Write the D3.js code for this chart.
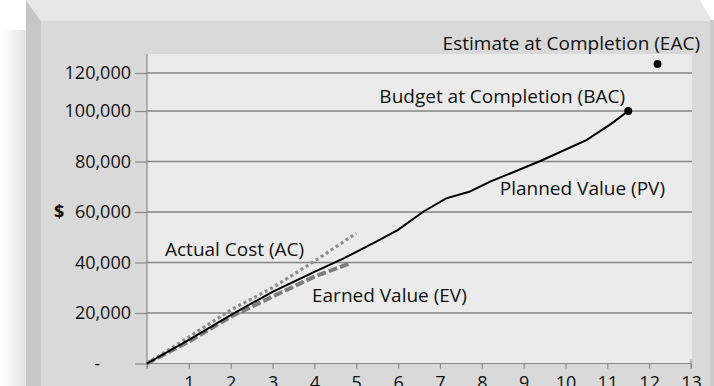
<!DOCTYPE html>
<html>
<head>
<meta charset="utf-8">
<script src="https://cdn.jsdelivr.net/npm/d3@7"></script>
<style>
  body { margin: 0; background: #fff; }
  svg { display: block; font-family: "Open Sans", sans-serif; }
</style>
</head>
<body>
<svg width="714" height="386"></svg>
<script>
// data (months, dollars)
var pvMonths = [0, 1, 2, 3, 4, 4.7, 5.5, 6, 6.6, 7.15, 7.7, 8.2, 9.4, 10.5, 11.1, 11.5];
var pvValues = [0, 9400, 19200, 28400, 36300, 41600, 48500, 52900, 60100, 65400, 68000, 72000, 80200, 88500, 95000, 100000];

var acMonths = [0, 1, 2, 3, 4, 5];
var acValues = [0, 10500, 21200, 30000, 40500, 51600];

var evMonths = [0, 1, 2, 3, 4, 4.85];
var evValues = [0, 8700, 18500, 26500, 34400, 39700];

var bac = { month: 11.5, value: 100000 };
var eac = { month: 12.2, value: 124700 };

var xTicks = [0, 1, 2, 3, 4, 5, 6, 7, 8, 9, 10, 11, 12, 13];
var yTicks = [0, 20000, 40000, 60000, 80000, 100000, 120000];

var svg = d3.select("svg"),
    width = +svg.attr("width"),
    height = +svg.attr("height");

// frame: shadow, left face, top face, front panel
var defs = svg.append("defs");
var grad = defs.append("linearGradient").attr("id", "shadow");
grad.append("stop").attr("offset", "0%").attr("stop-color", "#ffffff");
grad.append("stop").attr("offset", "100%").attr("stop-color", "#e2e2e2");

svg.append("rect").attr("x", 0).attr("y", 30).attr("width", 27).attr("height", height)
    .attr("fill", "url(#shadow)");
svg.append("rect").attr("x", 41).attr("y", 21).attr("width", width - 41).attr("height", height)
    .attr("fill", "#d9d9d9");
svg.append("polygon").attr("points", "26,0 41,21 41,386 26,386").attr("fill", "#c6c6c6");
svg.append("polygon").attr("points", "26,0 700,0 712,21 41,21").attr("fill", "#e7e7e7");
svg.append("polygon").attr("points", "710,20 714,20 714,386 710,386").attr("fill", "#cbcbcb");

var x = d3.scaleLinear()
    .domain([0, 13])
    .range([147, 691]);

// the original squeezes the top band, so use a piecewise scale
var y = d3.scaleLinear()
    .domain([0, 100000, 120000])
    .range([363.5, 111, 73]);

var plotTop = y(130000);

svg.append("rect")
    .attr("x", x(0)).attr("y", plotTop)
    .attr("width", 692 - x(0)).attr("height", y(0) - plotTop)
    .attr("fill", "#ebebeb");

// grid lines
svg.append("g").selectAll("line")
    .data(yTicks.slice(1))
    .join("line")
    .attr("x1", x(0)).attr("x2", 692)
    .attr("y1", d => y(d)).attr("y2", d => y(d))
    .attr("stroke", "#858585").attr("stroke-width", 1.5);

var yAxis = d3.axisLeft(y)
    .tickValues(yTicks)
    .tickSize(12)
    .tickPadding(4)
    .tickFormat(d => d === 0 ? "-" : d3.format(",")(d));

var gY = svg.append("g")
    .attr("transform", "translate(" + x(0) + ",0)")
    .call(yAxis);
gY.select(".domain").attr("d", "M0," + plotTop + "V" + (y(0) + 5)).attr("stroke", "#8a8a8a").attr("stroke-width", 1.2);
gY.selectAll(".tick line").attr("stroke", "#8a8a8a").attr("stroke-width", 1.2);
gY.selectAll(".tick text")
    .attr("font-size", 18).attr("font-family", "Open Sans").attr("fill", "#111");
gY.selectAll(".tick").filter(d => d === 0).select("text").attr("dx", -31);

var xAxis = d3.axisBottom(x)
    .tickValues(xTicks)
    .tickSize(5)
    .tickPadding(8)
    .tickFormat(d => d === 0 ? "" : d);

var gX = svg.append("g")
    .attr("transform", "translate(0," + y(0) + ")")
    .call(xAxis);
gX.select(".domain").attr("d", "M" + x(0) + ",0H" + x(13) + "M" + x(13) + ",-4V5").attr("stroke", "#8a8a8a").attr("stroke-width", 1.2);
gX.selectAll(".tick line").attr("stroke", "#8a8a8a").attr("stroke-width", 1.2);
gX.selectAll(".tick text")
    .attr("font-size", 18).attr("font-family", "Open Sans").attr("fill", "#111");

svg.append("text")
    .attr("x", 54).attr("y", y(60000) + 6)
    .attr("font-size", 18).attr("font-weight", "bold").attr("fill", "#111")
    .text("$");

var line = d3.line()
    .x(d => x(d[0]))
    .y(d => y(d[1]));

svg.append("path")
    .datum(d3.zip(acMonths, acValues))
    .attr("d", line)
    .attr("fill", "none").attr("stroke", "#8c8c8c")
    .attr("stroke-width", 3.2).attr("stroke-dasharray", "3,3");

svg.append("path")
    .datum(d3.zip(evMonths, evValues))
    .attr("d", line)
    .attr("fill", "none").attr("stroke", "#7d7d7d")
    .attr("stroke-width", 4).attr("stroke-dasharray", "9,3");

svg.append("path")
    .datum(d3.zip(pvMonths, pvValues))
    .attr("d", line)
    .attr("fill", "none").attr("stroke", "#000")
    .attr("stroke-width", 2);

svg.append("g").selectAll("circle")
    .data([bac, eac])
    .join("circle")
    .attr("cx", d => x(d.month)).attr("cy", d => y(d.value))
    .attr("r", 4).attr("fill", "#000");

var labels = [
  { text: "Estimate at Completion (EAC)", x: 700, y: 50, anchor: "end" },
  { text: "Budget at Completion (BAC)", x: 625, y: 103, anchor: "end" },
  { text: "Planned Value (PV)", x: 665, y: 195, anchor: "end" },
  { text: "Actual Cost (AC)", x: 165, y: 256, anchor: "start" },
  { text: "Earned Value (EV)", x: 312, y: 302, anchor: "start" }
];

svg.append("g").selectAll("text")
    .data(labels)
    .join("text")
    .attr("x", d => d.x).attr("y", d => d.y)
    .attr("text-anchor", d => d.anchor)
    .attr("font-size", 19).attr("fill", "#111")
    .text(d => d.text);
</script>
</body>
</html>
